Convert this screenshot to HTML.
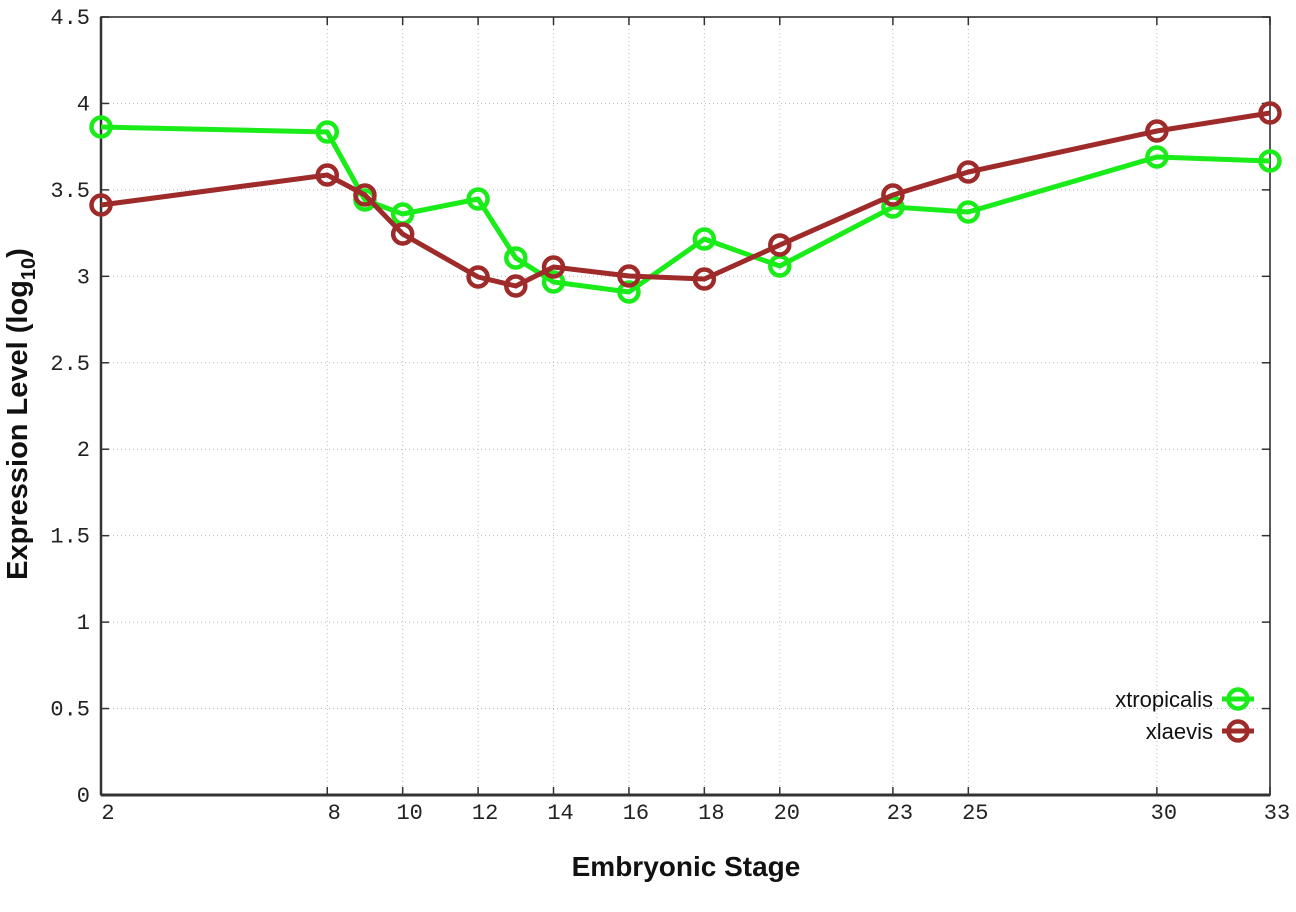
<!DOCTYPE html>
<html><head><meta charset="utf-8"><style>html,body{margin:0;padding:0;background:#fff}</style></head>
<body>
<svg width="1296" height="907" xmlns="http://www.w3.org/2000/svg">
<rect width="1296" height="907" fill="#fff"/>
<g id="grid" stroke="#bbb" stroke-width="1" stroke-dasharray="1,3">
</g>
</svg>
<script>
const NS="http://www.w3.org/2000/svg";
const svg=document.querySelector('svg');
function el(t,a,p){const e=document.createElementNS(NS,t);for(const k in a)e.setAttribute(k,a[k]);(p||svg).appendChild(e);return e;}
const L=101,R=1270,T=17,B=795;
const X=s=>L+(s-2)*(R-L)/31;
const Y=v=>B-v*(B-T)/4.5;
const grid=document.getElementById('grid');
const stages=[2,8,10,12,14,16,18,20,23,25,30,33];
stages.forEach(s=>{const x=X(s);
 if(s!==2&&s!==33) el('line',{x1:x,y1:T,x2:x,y2:B},grid);
 el('line',{x1:x,y1:B,x2:x,y2:B-8,stroke:'#333','stroke-width':1.5});
 el('line',{x1:x,y1:T,x2:x,y2:T+8,stroke:'#333','stroke-width':1.5});
 const t=el('text',{x:x+7,y:B+24,'text-anchor':'middle','font-family':'Liberation Mono, monospace','font-size':22,fill:'#222'});t.textContent=s;
});
for(let i=0;i<=9;i++){const v=i*0.5,y=Y(v);
 if(i>0&&i<9) el('line',{x1:L,y1:y,x2:R,y2:y},grid);
 el('line',{x1:L,y1:y,x2:L+8,y2:y,stroke:'#333','stroke-width':1.5});
 el('line',{x1:R,y1:y,x2:R-8,y2:y,stroke:'#333','stroke-width':1.5});
 const t=el('text',{x:90,y:y+7,'text-anchor':'end','font-family':'Liberation Mono, monospace','font-size':22,fill:'#222'});t.textContent=(i%2==0)?String(v):v.toFixed(1);
}
el('rect',{x:L,y:T,width:R-L,height:B-T,fill:'none',stroke:'#222','stroke-width':1.5});
el('line',{x1:L,y1:B,x2:R,y2:B,stroke:'#333','stroke-width':3});
el('line',{x1:L,y1:T,x2:L,y2:B,stroke:'#333','stroke-width':2.5});
const s=[2,8,9,10,12,13,14,16,18,20,23,25,30,33];
const g=[127,132,200,214,199,258,282,292,239,266,207,212,157,161];
const r=[205,175,195,234,277,286,267,276,279,245,195,172,131,113];
function series(ys,col){
 el('polyline',{points:s.map((v,i)=>X(v)+','+ys[i]).join(' '),fill:'none',stroke:col,'stroke-width':5,'stroke-linejoin':'round'});
 s.forEach((v,i)=>el('circle',{cx:X(v),cy:ys[i],r:9.5,fill:'none',stroke:col,'stroke-width':4.5}));
}
series(g,'#19ec19');
series(r,'#9e2a2a');
[['xtropicalis','#19ec19',699],['xlaevis','#9e2a2a',731]].forEach(([n,c,y])=>{
 const t=el('text',{x:1213,y:y+8,'text-anchor':'end','font-family':'Liberation Sans, sans-serif','font-size':22,fill:'#111'});t.textContent=n;
 el('line',{x1:1222,y1:y,x2:1254,y2:y,stroke:c,'stroke-width':5});
 el('circle',{cx:1238,cy:y,r:9.5,fill:'none',stroke:c,'stroke-width':4.5});
});
let t=el('text',{x:686,y:876,'text-anchor':'middle','font-family':'Liberation Sans, sans-serif','font-size':28,'font-weight':'bold',fill:'#111'});t.textContent='Embryonic Stage';
t=el('text',{transform:'translate(27,414) rotate(-90)','text-anchor':'middle','font-family':'Liberation Sans, sans-serif','font-size':29,'font-weight':'bold',fill:'#111'});
t.innerHTML='Expression Level (log<tspan font-size="20" dy="8">10</tspan><tspan dy="-8">)</tspan>';
</script>
</body></html>
